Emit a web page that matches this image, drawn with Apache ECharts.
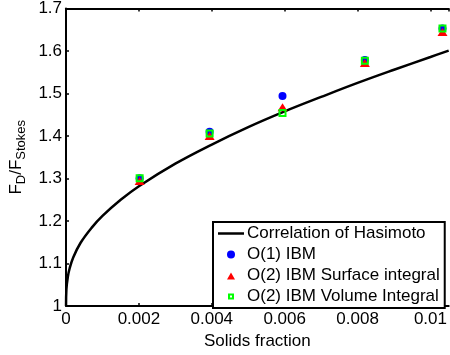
<!DOCTYPE html>
<html>
<head>
<meta charset="utf-8">
<script src="https://cdn.jsdelivr.net/npm/echarts@6/dist/echarts.min.js"></script>
<style>
html,body{margin:0;padding:0;background:#fff;}
#c{width:450px;height:355px;}
</style>
</head>
<body>
<div id="c"></div>
<script>
// Correlation of Hasimoto
var curveX = [0, 0.00001, 0.00005, 0.0001, 0.0002, 0.0004, 0.0007, 0.001, 0.0015, 0.002, 0.003, 0.004, 0.005, 0.006, 0.007, 0.008, 0.009, 0.01, 0.0105];
var curveY = [1.0, 1.039, 1.069, 1.089, 1.115, 1.149, 1.184, 1.212, 1.250, 1.282, 1.335, 1.380, 1.421, 1.458, 1.492, 1.525, 1.556, 1.586, 1.601];
// Simulation points
var ptX = [0.00202, 0.00394, 0.00594, 0.0082, 0.01033];
var o1Y = [1.301, 1.410, 1.494, 1.579, 1.653];
var o2SurfY = [1.294, 1.400, 1.468, 1.572, 1.645];
var o2VolY = [1.301, 1.406, 1.454, 1.577, 1.653];
var seriesNames = ['Correlation of Hasimoto', 'O(1) IBM', 'O(2) IBM Surface integral', 'O(2) IBM Volume Integral'];

function zip(xs, ys) { return xs.map(function (x, i) { return [x, ys[i]]; }); }

var FONT = 'Liberation Sans, Arial, Helvetica, sans-serif';
var chart = echarts.init(document.getElementById('c'), null, {renderer: 'canvas'});
var axisCommon = {
  type: 'value',
  axisLine: {show: true, onZero: false, lineStyle: {color: '#000', width: 2}},
  axisTick: {show: true, inside: true, length: 3, lineStyle: {color: '#000', width: 1.5}},
  splitLine: {show: false}
};
chart.setOption({
  animation: false,
  backgroundColor: '#fff',
  textStyle: {fontFamily: FONT},
  grid: {left: 66, top: 7, right: -5, bottom: 43, containLabel: false},
  xAxis: [
    Object.assign({}, axisCommon, {
      min: 0, max: 0.0105, interval: 0.002,
      position: 'bottom',
      axisLabel: {color: '#000', fontSize: 17, fontFamily: FONT, margin: 5},
      name: 'Solids fraction', nameLocation: 'middle', nameGap: 21,
      nameTextStyle: {color: '#000', fontSize: 17, fontFamily: FONT}
    }),
    Object.assign({}, axisCommon, {
      min: 0, max: 0.0105, interval: 0.002,
      position: 'top',
      axisLabel: {show: false}
    })
  ],
  yAxis: [
    Object.assign({}, axisCommon, {
      min: 1, max: 1.7, interval: 0.1,
      axisLabel: {color: '#000', fontSize: 17, fontFamily: FONT, margin: 4},
      name: '{a|F}{b|D}{a|/F}{b|Stokes}', nameLocation: 'middle', nameGap: 35, nameRotate: 90,
      nameTextStyle: {
        color: '#000', fontFamily: FONT,
        rich: {
          a: {fontSize: 17, color: '#000', fontFamily: FONT},
          b: {fontSize: 13, color: '#000', fontFamily: FONT, padding: [9, 0, 0, 0]}
        }
      }
    })
  ],
  legend: {
    orient: 'vertical',
    left: 213, top: 222,
    backgroundColor: '#fff',
    borderColor: '#000', borderWidth: 2,
    padding: [3, 5, 3, 5],
    itemGap: 4,
    itemWidth: 26, itemHeight: 8,
    symbolKeepAspect: true,
    textStyle: {color: '#000', fontSize: 17, fontFamily: FONT, padding: [0, 0, 0, -2]},
    data: [
      {name: seriesNames[0], icon: 'path://M0,0H26V2.5H0Z'},
      {name: seriesNames[1], icon: 'circle'},
      {name: seriesNames[2], icon: 'path://M0,0L0,0.001ZM5,1L9,8L1,8ZM10,0L10,0.001Z'},
      {name: seriesNames[3], icon: 'path://M0,0L0,0.001ZM2,2H6V6H2ZM8,8L8,8.001Z'}
    ]
  },
  series: [
    {
      name: seriesNames[0], type: 'line', data: zip(curveX, curveY),
      symbol: 'none', smooth: 0.4, z: 2,
      lineStyle: {color: '#000', width: 2.5}, itemStyle: {color: '#000'}
    },
    {
      name: seriesNames[1], type: 'scatter', data: zip(ptX, o1Y),
      symbol: 'circle', symbolSize: 8, z: 3,
      itemStyle: {color: '#0000ff', opacity: 1}
    },
    {
      name: seriesNames[2], type: 'scatter', data: zip(ptX, o2SurfY),
      symbol: 'triangle', symbolSize: [10, 8], z: 4,
      itemStyle: {color: '#ff0000', opacity: 1}
    },
    {
      name: seriesNames[3], type: 'scatter', data: zip(ptX, o2VolY),
      symbol: 'rect', symbolSize: 6, z: 5,
      itemStyle: {color: 'rgba(0,0,0,0)', borderColor: '#00ff00', borderWidth: 2, opacity: 1}
    }
  ]
});
</script>
</body>
</html>
